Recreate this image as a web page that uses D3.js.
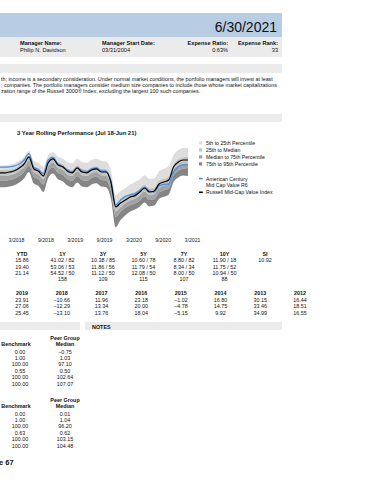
<!DOCTYPE html>
<html lang="en">
	<head>
		<meta charset="utf-8">
		<title>Fund Fact Sheet</title>
		<script src="https://d3js.org/d3.v7.min.js" charset="utf-8"></script>
		<style type="text/css">
		body { margin: 0; background: #fff; }
		svg { display: block; font-family: "Liberation Sans", Arial, sans-serif; }
		</style>
	</head>
	<body>
	<script type="text/javascript">

	// rolling 3 year performance (monthly points)
	const fund  = [9.2,9.2,9.3,9.5,10.0,11.0,12.6,9.3,8.6,7.6,11.0,11.7,10.0,9.3,8.5,8.0,9.2,8.3,8.1,8.8,9.0,8.3,8.2,5.8,-0.3,1.0,1.9,2.3,2.6,3.4,4.2,3.2,3.0,4.6,4.9,5.0,8.0,9.3,9.8,9.7];
	const bench = [7.8,7.8,8.0,8.3,9.0,10.0,11.8,8.8,8.2,7.0,10.3,11.3,9.8,9.3,8.2,7.8,9.0,8.0,7.8,8.5,8.8,8.0,8.0,5.5,-0.75,0.25,1.0,1.75,2.1,3.0,4.0,3.0,3.25,5.0,5.5,6.0,9.25,10.5,11.0,11.0];
	const p5  = [9.6,9.6,9.8,10.2,10.8,11.8,13.3,10.8,10.3,9.2,12.2,13.0,11.8,11.4,10.5,10.2,11.3,10.5,10.3,11.0,11.3,10.8,10.6,8.5,2.2,3.2,4.0,4.9,5.5,6.2,7.2,6.3,6.4,8.2,8.8,9.5,12.2,13.5,14.0,14.0];
	const p25 = [8.5,8.5,8.6,8.9,9.6,10.6,12.2,9.5,8.9,7.8,11.0,11.9,10.5,10.0,9.0,8.6,9.7,8.8,8.6,9.2,9.5,8.8,8.7,6.2,0.2,1.0,1.8,2.6,3.0,3.8,4.8,3.9,4.1,5.8,6.3,6.9,10.0,11.2,11.7,11.8];
	const p50 = [7.0,7.0,7.2,7.5,8.2,9.2,10.9,8.0,7.4,6.2,9.4,10.4,9.0,8.5,7.4,7.0,8.2,7.2,7.0,7.7,8.0,7.2,7.1,4.6,-1.8,-0.8,0.2,0.9,1.3,2.1,3.1,2.2,2.4,4.1,4.6,5.1,8.4,9.6,10.1,10.2];
	const p75 = [5.8,5.8,6.0,6.3,7.0,8.0,9.6,6.8,6.2,4.9,8.2,9.2,7.8,7.3,6.2,5.8,7.0,6.0,5.8,6.5,6.8,6.0,5.9,3.3,-3.2,-2.0,-1.0,-0.3,0.1,0.9,1.9,1.0,1.2,2.9,3.4,3.9,7.1,8.3,8.8,9.0];
	const p95 = [4.2,4.2,4.4,4.7,5.4,6.4,8.0,5.1,4.5,3.0,6.5,7.6,6.2,5.7,4.6,4.2,5.4,4.4,4.2,4.9,5.2,4.4,4.2,1.4,-5.8,-4.0,-2.8,-1.9,-1.4,-0.6,0.4,-0.6,-0.4,1.3,1.8,2.4,5.5,6.6,7.1,7.0];
	const tickLabels = ["3/2018","9/2018","3/2019","9/2019","3/2020","9/2020","3/2021"];

	const bandNames = ["5th to 25th Percentile","25th to Median","Median to 75th Percentile","75th to 95th Percentile"];
	const lineNames = [["American Century","Mid Cap Value R6"],["Russell Mid-Cap Value Index"]];

	// trailing returns
	const trailHeaders = ["YTD","1Y","3Y","5Y","7Y","10Y","SI"];
	const fundRet   = [15.86,41.02,10.38,10.60,8.80,11.90,10.92];
	const fundRank  = [null,82,85,78,82,18,null];
	const benchRet  = [19.40,53.06,11.86,11.79,8.34,11.75,null];
	const benchRank = [null,53,56,54,34,52,null];
	const peerRet   = [21.14,54.52,11.12,12.08,8.00,10.94,null];
	const peerRank  = [null,50,50,50,50,50,null];
	const peerCount = [null,158,109,115,107,88,null];

	// calendar returns
	const calYears = ["2019","2018","2017","2016","2015","2014","2013","2012"];
	const fundCal  = [23.91,-10.66,11.96,23.18,-1.02,16.80,30.15,16.44];
	const benchCal = [27.06,-12.29,13.34,20.00,-4.78,14.75,33.46,18.51];
	const peerCal  = [25.45,-13.10,13.76,18.04,-5.15,9.92,34.99,16.55];

	// risk statistics
	const riskBench3 = [0.00,1.00,100.00,0.55,100.00,100.00];
	const riskPeer3  = [-0.75,1.03,97.10,0.50,102.64,107.07];
	const riskBench5 = [0.00,1.00,100.00,0.63,100.00,100.00];
	const riskPeer5  = [0.01,1.04,96.20,0.62,103.15,104.48];

	const w = 370, h = 480;
	const fs = 5.4; // table text size
	const svg = d3.select("body").append("svg").attr("width", w).attr("height", h);

	function txt(x, y, s, size, opts) {
		opts = opts || {};
		return svg.append("text").attr("x", x).attr("y", y)
			.attr("font-size", size)
			.attr("font-weight", opts.bold ? "bold" : null)
			.attr("text-anchor", opts.anchor || "start")
			.attr("fill", "#111")
			.text(s);
	}

	// header bars
	svg.append("rect").attr("x", 0).attr("y", 13).attr("width", 282).attr("height", 24).attr("fill", "#b8cce4");
	txt(277, 32, "6/30/2021", 14, {anchor: "end"});
	svg.append("rect").attr("x", 0).attr("y", 37).attr("width", 282).attr("height", 20).attr("fill", "#ebebeb");
	txt(20, 45, "Manager Name:", 5.6, {bold: true});
	txt(20, 51.5, "Philip N. Davidson", 5.6);
	txt(102, 45, "Manager Start Date:", 5.6, {bold: true});
	txt(102, 51.5, "03/31/2004", 5.6);
	txt(228, 45, "Expense Ratio:", 5.6, {bold: true, anchor: "end"});
	txt(228, 51.5, "0.63%", 5.6, {anchor: "end"});
	txt(278, 45, "Expense Rank:", 5.6, {bold: true, anchor: "end"});
	txt(278, 51.5, "33", 5.6, {anchor: "end"});

	svg.append("rect").attr("x", 0).attr("y", 64).attr("width", 282).attr("height", 9).attr("fill", "#ebebeb");
	txt(1, 81, "th; income is a secondary consideration.  Under normal market conditions, the portfolio managers will invest at least", 5.35);
	txt(1, 87, "; companies.  The portfolio managers consider medium size companies to include those whose market capitalizations", 5.35);
	txt(1, 93, "zation range of the Russell 3000® Index, excluding the largest 100 such companies.", 5.35);

	svg.append("rect").attr("x", 0).attr("y", 114).attr("width", 282).attr("height", 8).attr("fill", "#ebebeb");
	txt(17, 134.5, "3 Year Rolling Performance (Jul 18-Jun 21)", 5.9, {bold: true});

	// rolling chart
	const x = d3.scaleLinear().domain([0, fund.length - 1]).range([0, 188]);
	const y = d3.scaleLinear().domain([-6, 14]).range([228, 148]);
	const bandColors = ["#dedede", "#c4c4c4", "#a3a3a3", "#858585"];
	const bands = [[p5, p25], [p25, p50], [p50, p75], [p75, p95]];

	bands.forEach(function(b, k) {
		const area = d3.area()
			.x(function(d, i) { return x(i); })
			.y0(function(d, i) { return y(b[1][i]); })
			.y1(function(d, i) { return y(b[0][i]); })
			.curve(d3.curveMonotoneX);
		svg.append("path").attr("d", area(fund)).attr("fill", bandColors[k]);
	});

	const line = d3.line()
		.x(function(d, i) { return x(i); })
		.y(function(d) { return y(d); })
		.curve(d3.curveMonotoneX);
	svg.append("path").attr("d", line(fund)).attr("fill", "none").attr("stroke", "#4a90e2").attr("stroke-width", 1.3);
	svg.append("path").attr("d", line(bench)).attr("fill", "none").attr("stroke", "#000").attr("stroke-width", 1.2);

	const xt = d3.scalePoint().domain(tickLabels).range([16, 192]);
	const axis = svg.append("g").attr("transform", "translate(0,238)")
		.call(d3.axisBottom(xt).tickSize(0).tickPadding(0));
	axis.select(".domain").remove();
	axis.selectAll("text").attr("font-size", 5.2).attr("fill", "#222").attr("font-family", "Liberation Sans, Arial, sans-serif");

	// legend
	const ly = d3.scalePoint().domain(bandNames).range([144.5, 165.5]);
	bandNames.forEach(function(n, k) {
		svg.append("rect").attr("x", 199).attr("y", ly(n) - 3.2).attr("width", 3.2).attr("height", 3.2).attr("fill", bandColors[k]);
		txt(206, ly(n), n, 5.2);
	});
	svg.append("rect").attr("x", 199).attr("y", 177.8).attr("width", 3.8).attr("height", 1.6).attr("fill", "#4a90e2");
	txt(206, 180.5, lineNames[0][0], 5.2);
	txt(206, 186.5, lineNames[0][1], 5.2);
	svg.append("rect").attr("x", 199).attr("y", 191.5).attr("width", 3.8).attr("height", 1.6).attr("fill", "#000");
	txt(206, 194, lineNames[1][0], 5.2);

	// trailing table
	const fmt = d3.format(".2f");
	const tx = d3.scalePoint().domain(trailHeaders).range([22, 265]);
	function cell(r, rk) {
		if (r === null) return "";
		return rk === null ? fmt(r) : fmt(r) + " / " + rk;
	}
	trailHeaders.forEach(function(hd, i) {
		const cx = tx(hd);
		txt(cx, 255.5, hd, fs, {bold: true, anchor: "middle"});
		txt(cx, 262, cell(fundRet[i], fundRank[i]), fs, {anchor: "middle"});
		txt(cx, 268.5, cell(benchRet[i], benchRank[i]), fs, {anchor: "middle"});
		txt(cx, 275, cell(peerRet[i], peerRank[i]), fs, {anchor: "middle"});
		txt(cx, 281, peerCount[i] === null ? "" : peerCount[i], fs, {anchor: "middle"});
	});

	// calendar table
	const cx2 = d3.scalePoint().domain(calYears).range([22, 300]);
	calYears.forEach(function(yr, i) {
		const cx = cx2(yr);
		txt(cx, 295, yr, fs, {bold: true, anchor: "middle"});
		txt(cx, 301.5, fmt(fundCal[i]), fs, {anchor: "middle"});
		txt(cx, 308, fmt(benchCal[i]), fs, {anchor: "middle"});
		txt(cx, 314.5, fmt(peerCal[i]), fs, {anchor: "middle"});
	});

	// risk tables + notes
	svg.append("rect").attr("x", 0).attr("y", 322).attr("width", 80).attr("height", 8).attr("fill", "#ebebeb");
	svg.append("rect").attr("x", 85).attr("y", 322).attr("width", 197).attr("height", 8).attr("fill", "#ebebeb");
	txt(92, 329, "NOTES", fs, {bold: true});

	function riskTable(top, bVals, pVals) {
		txt(16, top + 6, "Benchmark", fs, {bold: true, anchor: "middle"});
		txt(65, top, "Peer Group", fs, {bold: true, anchor: "middle"});
		txt(65, top + 6, "Median", fs, {bold: true, anchor: "middle"});
		const ry = d3.scalePoint().domain(d3.range(bVals.length)).range([top + 14, top + 46]);
		bVals.forEach(function(v, i) {
			txt(20, ry(i), fmt(v), fs, {anchor: "middle"});
			txt(65, ry(i), fmt(pVals[i]), fs, {anchor: "middle"});
		});
	}
	riskTable(339.5, riskBench3, riskPeer3);
	riskTable(401.5, riskBench5, riskPeer5);

	txt(-1, 465, "e 67", 7.5, {bold: true});

	</script>
	</body>
</html>
